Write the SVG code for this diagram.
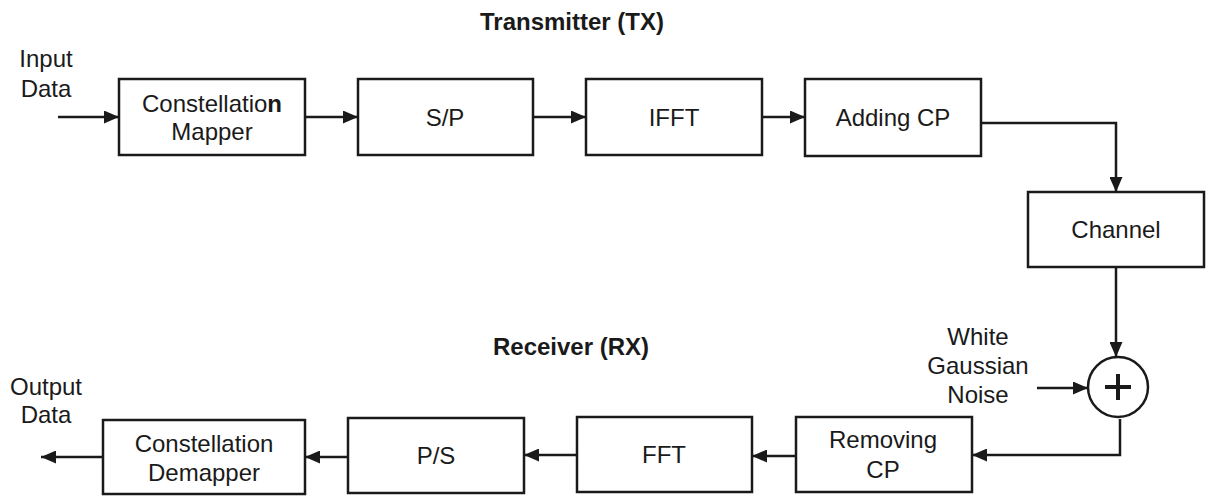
<svg xmlns="http://www.w3.org/2000/svg" width="1211" height="498" viewBox="0 0 1211 498">
<style>
.box{fill:#fff;stroke:#1a1a1a;stroke-width:2.5}
.t{font-family:"Liberation Sans",Arial,sans-serif;font-size:24px;fill:#1a1a1a;text-anchor:middle}
.title{font-weight:bold}
.ln{fill:none;stroke:#1a1a1a;stroke-width:2.5}
</style>
<defs>
<marker id="ah" markerUnits="userSpaceOnUse" markerWidth="16" markerHeight="13" refX="15" refY="6.5" orient="auto">
<path d="M0,0 L15,6.5 L0,13 z" fill="#1a1a1a"/>
</marker>
</defs>
<rect width="1211" height="498" fill="#fff"/>
<text class="t title" x="572" y="30">Transmitter (TX)</text>
<text class="t title" x="571" y="355">Receiver (RX)</text>
<g id="input-label"><text class="t" x="46" y="67">Input</text><text class="t" x="46" y="97">Data</text></g>
<g id="output-label"><text class="t" x="46" y="395">Output</text><text class="t" x="46" y="423">Data</text></g>
<g id="noise-label"><text class="t" x="978" y="345">White</text><text class="t" x="978" y="374">Gaussian</text><text class="t" x="978" y="403">Noise</text></g>
<g id="mapper"><rect class="box" x="119" y="79" width="186" height="76"/><text class="t" x="212" y="112">Constellatio<tspan font-weight="bold">n</tspan></text><text class="t" x="212" y="140">Mapper</text></g>
<g id="sp"><rect class="box" x="358" y="79" width="175" height="76"/><text class="t" x="445" y="126">S/P</text></g>
<g id="ifft"><rect class="box" x="586" y="79" width="176" height="76"/><text class="t" x="674" y="126">IFFT</text></g>
<g id="addcp"><rect class="box" x="805" y="79" width="176" height="77"/><text class="t" x="893" y="126">Adding CP</text></g>
<g id="channel"><rect class="box" x="1028" y="192" width="176" height="75"/><text class="t" x="1116" y="238">Channel</text></g>
<g id="adder"><circle cx="1118" cy="387" r="30" fill="#fff" stroke="#1a1a1a" stroke-width="2.5"/><path d="M1105,387 H1131 M1118,374 V400" stroke="#1a1a1a" stroke-width="4"/></g>
<g id="removecp"><rect class="box" x="796" y="417" width="176" height="75"/><text class="t" x="883" y="448">Removing</text><text class="t" x="883" y="478">CP</text></g>
<g id="fft"><rect class="box" x="577" y="417" width="175" height="75"/><text class="t" x="664" y="463">FFT</text></g>
<g id="ps"><rect class="box" x="348" y="418" width="176" height="75"/><text class="t" x="436" y="464">P/S</text></g>
<g id="demapper"><rect class="box" x="103" y="420" width="202" height="74"/><text class="t" x="204" y="452">Constellation</text><text class="t" x="204" y="481">Demapper</text></g>
<g id="connectors">
<path class="ln" d="M58,117 H119" marker-end="url(#ah)"/>
<path class="ln" d="M305,117 H358" marker-end="url(#ah)"/>
<path class="ln" d="M533,117 H586" marker-end="url(#ah)"/>
<path class="ln" d="M762,117 H805" marker-end="url(#ah)"/>
<path class="ln" d="M981,123 H1116 V192" marker-end="url(#ah)"/>
<path class="ln" d="M1116,267 V357" marker-end="url(#ah)"/>
<path class="ln" d="M1037,388 H1088" marker-end="url(#ah)"/>
<path class="ln" d="M1120,419 V455 H972" marker-end="url(#ah)"/>
<path class="ln" d="M796,456 H752" marker-end="url(#ah)"/>
<path class="ln" d="M577,455 H524" marker-end="url(#ah)"/>
<path class="ln" d="M348,457 H305" marker-end="url(#ah)"/>
<path class="ln" d="M103,457 H41" marker-end="url(#ah)"/>
</g>
</svg>
